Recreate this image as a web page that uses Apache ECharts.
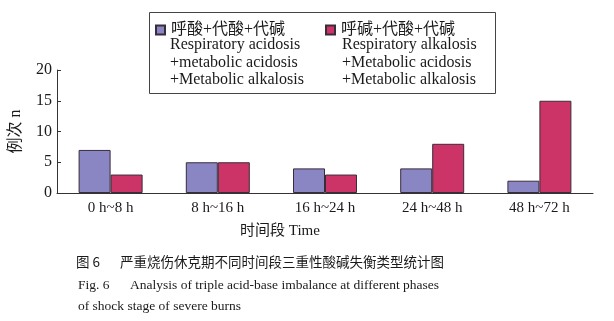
<!DOCTYPE html>
<html><head><meta charset="utf-8">
<script src="https://cdn.jsdelivr.net/npm/echarts@6/dist/echarts.min.js"></script>
<style>html,body{margin:0;padding:0;background:#fff}#c{width:614px;height:321px}</style>
</head><body><div id="c"></div>
<script>
const categories = ['0 h~8 h', '8 h~16 h', '16 h~24 h', '24 h~48 h', '48 h~72 h'];
const seriesNames = ['呼酸+代酸+代碱', '呼碱+代酸+代碱'];
const respAcidosis = [7, 5, 4, 4, 2];
const respAlkalosis = [3, 5, 3, 8, 15];
const legendSub1 = ['Respiratory acidosis', '+metabolic acidosis', '+Metabolic alkalosis'];
const legendSub2 = ['Respiratory alkalosis', '+Metabolic acidosis', '+Metabolic alkalosis'];
const yTicks = [0, 5, 10, 15, 20];
const captionCnLabel = '图 6';
const captionCn = '严重烧伤休克期不同时间段三重性酸碱失衡类型统计图';
const captionEnLabel = 'Fig. 6';
const captionEn1 = 'Analysis of triple acid-base imbalance at different phases';
const captionEn2 = 'of shock stage of severe burns';

const serif = '"Liberation Serif", "Times New Roman", "Noto Sans CJK SC", serif';
const colors = ['#8a85c3', '#cc3366'];
const ink = '#1a1a1a';
const chart = echarts.init(document.getElementById('c'), null, {renderer: 'canvas'});

function subText(lines, x) {
  return lines.map((t, i) => ({
    type: 'text', left: x, top: 37 + i * 17.5,
    style: {text: t, font: '16px ' + serif, fill: ink}
  }));
}

chart.setOption({
  animation: false,
  grid: {left: 54, right: 21, top: 70, bottom: 128, containLabel: false},
  legend: [
    {data: [seriesNames[0]], left: 150, top: 17, itemWidth: 9, itemHeight: 9, itemGap: 0,
     icon: 'rect', textStyle: {fontFamily: serif, fontSize: 16, color: ink, padding: [0, 0, 0, 1]}},
    {data: [seriesNames[1]], left: 320, top: 17, itemWidth: 9, itemHeight: 9, itemGap: 0,
     icon: 'rect', textStyle: {fontFamily: serif, fontSize: 16, color: ink, padding: [0, 0, 0, 1]}}
  ],
  xAxis: {
    type: 'category', data: categories,
    axisLine: {lineStyle: {color: '#333', width: 1}},
    axisTick: {inside: true, length: 5, lineStyle: {color: '#333'}},
    axisLabel: {fontFamily: serif, fontSize: 15, color: ink, margin: 8}
  },
  yAxis: {
    type: 'value', min: 0, max: 20, interval: 5,
    splitLine: {show: false},
    axisLine: {show: true, lineStyle: {color: '#333', width: 1}},
    axisTick: {show: true, inside: true, length: 4, lineStyle: {color: '#333'}},
    axisLabel: {fontFamily: serif, fontSize: 16, color: ink, margin: 5,
      formatter: v => yTicks.includes(v) ? String(v) : ''},
    name: '例次 n', nameLocation: 'middle', nameGap: 33, nameRotate: 90,
    nameTextStyle: {fontFamily: serif, fontSize: 16, color: ink}
  },
  series: [
    {name: seriesNames[0], type: 'bar', data: respAcidosis, barWidth: 32, barGap: '0%',
     itemStyle: {color: colors[0], borderColor: '#3a2d3a', borderWidth: 1}},
    {name: seriesNames[1], type: 'bar', data: respAlkalosis, barWidth: 32, barGap: '0%',
     itemStyle: {color: colors[1], borderColor: '#3a2d3a', borderWidth: 1}}
  ],
  graphic: [
    {type: 'rect', shape: {x: 149.5, y: 12.5, width: 346, height: 81},
     style: {fill: 'none', stroke: '#444', lineWidth: 1}, z: 0},
    ...subText(legendSub1, 170),
    ...subText(legendSub2, 342),
    {type: 'text', left: 240, top: 224,
     style: {text: '时间段 Time', font: '15px ' + serif, fill: ink}},
    {type: 'text', left: 76, top: 255,
     style: {text: captionCnLabel, font: '13.5px "Noto Sans CJK SC", sans-serif', fill: ink}},
    {type: 'text', left: 120, top: 255,
     style: {text: captionCn, font: '13.5px "Noto Sans CJK SC", sans-serif', fill: ink}},
    {type: 'text', left: 78, top: 279,
     style: {text: captionEnLabel, font: '13.5px ' + serif, fill: ink}},
    {type: 'text', left: 130, top: 279,
     style: {text: captionEn1, font: '13.5px ' + serif, fill: ink}},
    {type: 'text', left: 78, top: 300,
     style: {text: captionEn2, font: '13.5px ' + serif, fill: ink}}
  ]
});
</script></body></html>
